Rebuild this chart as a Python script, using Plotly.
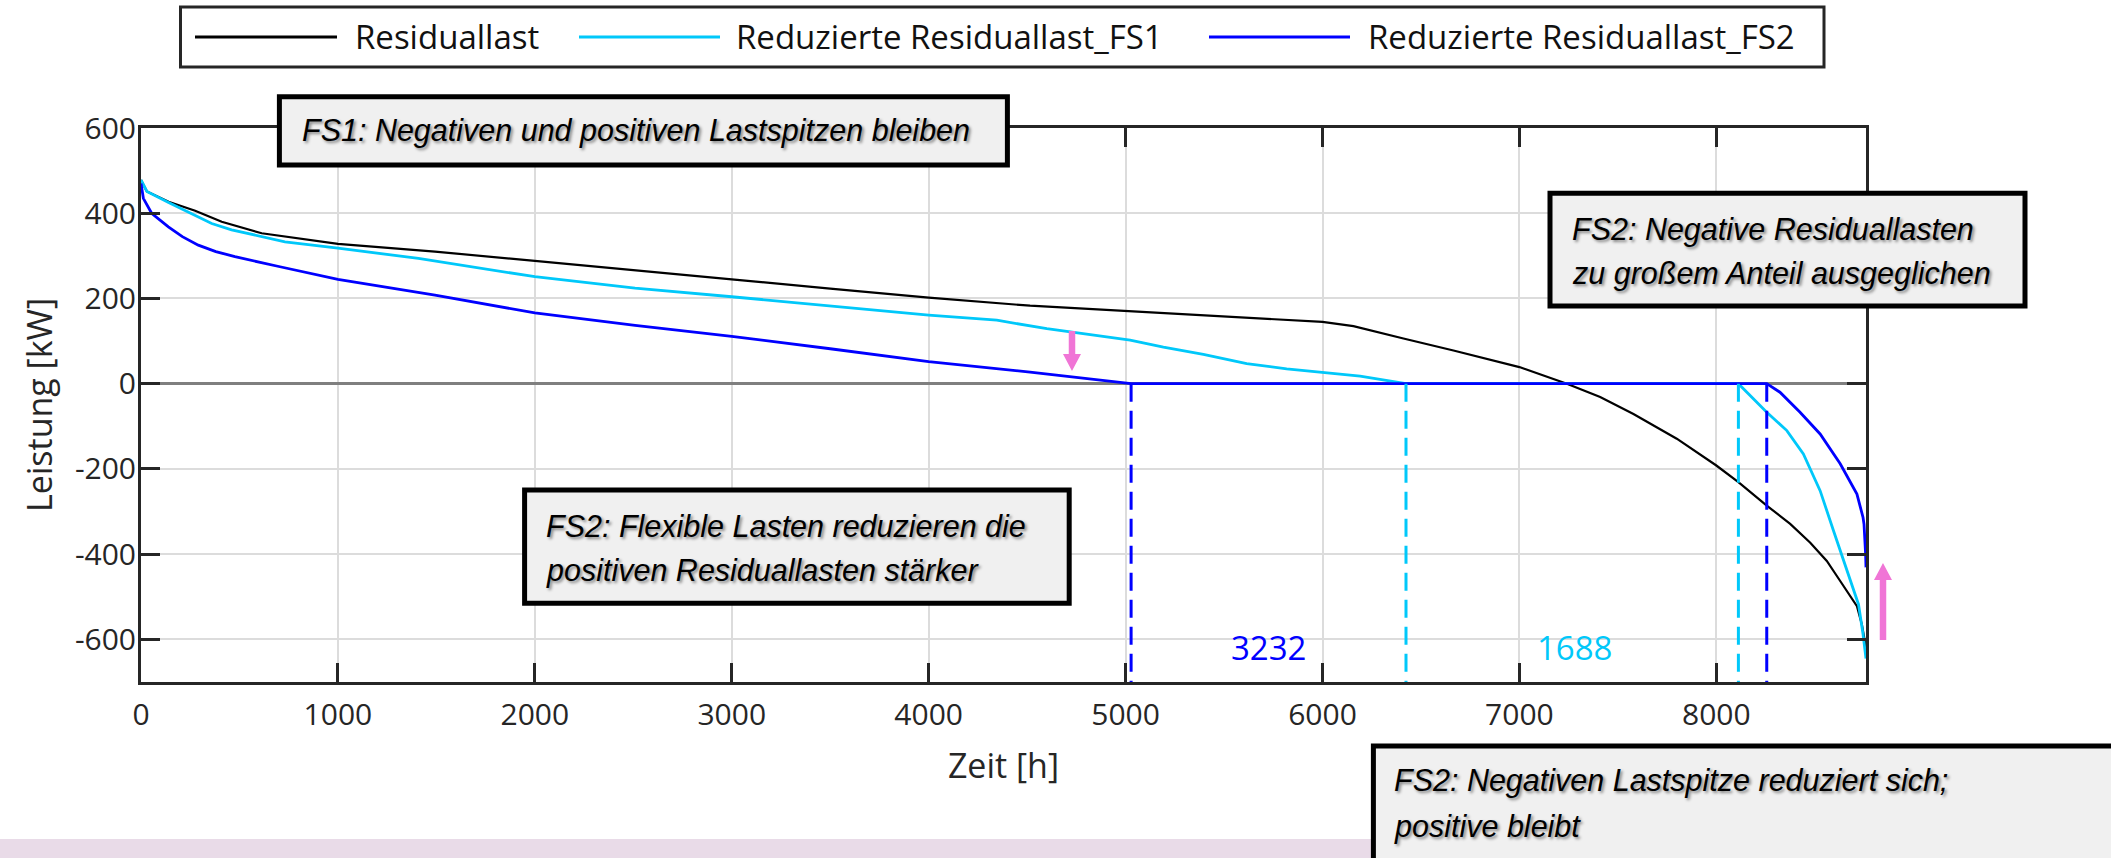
import plotly.graph_objects as go

# ---------------- data ----------------
res_x = [0, 30, 140, 275, 410, 613, 1000, 1493, 2000, 2483, 3000, 3500, 4000, 4515, 5000,
         5480, 6000, 6157, 6250, 6411, 6665, 7000, 7241, 7410, 7579, 7799, 8000, 8112, 8256,
         8375, 8477, 8561, 8629, 8714, 8739, 8760]
res_y = [478, 451, 427, 406, 380, 353, 328, 310, 288, 268, 245, 223, 202, 183, 171,
         158, 145, 135, 125, 106, 78, 39, 0, -31, -71, -129, -192, -231, -286,
         -329, -373, -416, -463, -522, -565, -620]

fs1_x = [0, 30, 140, 359, 460, 731, 1000, 1409, 2000, 2509, 3000, 3500, 4000, 4346, 4600,
         5023, 5192, 5395, 5615, 5818, 6000, 6191, 6424, 8112, 8256, 8358, 8442, 8527,
         8595, 8662, 8722, 8745, 8760]
fs1_y = [478, 451, 425, 376, 361, 333, 318, 294, 251, 224, 204, 182, 161, 149, 129,
         102, 86, 69, 47, 35, 27, 18, 0, 0, -67, -110, -165, -251,
         -345, -439, -518, -588, -645]

fs2_x = [0, 12, 54, 139, 210, 291, 380, 477, 700, 1000, 1493, 2000, 2509, 3000, 3500, 4000, 4515, 5028,
         8256, 8323, 8425, 8527, 8629, 8714, 8745, 8750, 8758, 8760]
fs2_y = [470, 435, 400, 368, 345, 325, 310, 298, 275, 245, 208, 166, 137, 111, 82, 52, 27, 0,
         0, -20, -67, -118, -188, -259, -314, -330, -400, -431]

fs2_zero_bounds = [5028, 8256]   # FS2 zero segment (3232 h)
fs1_zero_bounds = [6424, 8112]   # FS1 zero segment (1688 h)
fs2_count_label = "3232"
fs1_count_label = "1688"

x_tickvals = [0, 1000, 2000, 3000, 4000, 5000, 6000, 7000, 8000]
x_ticktext = ["0", "1000", "2000", "3000", "4000", "5000", "6000", "7000", "8000"]
y_tickvals = [-600, -400, -200, 0, 200, 400, 600]
y_ticktext = ["-600", "-400", "-200", "0", "200", "400", "600"]

series_names = ["Residuallast", "Reduzierte Residuallast_FS1", "Reduzierte Residuallast_FS2"]

# ---------------- styling ----------------
W, H = 2111, 858
L, R, T, B = 141, 1866, 128, 682
BLACK = "#000000"
CYAN = "#00C8FA"
BLUE = "#0000FF"
PINK = "#F075D6"
AXC = "#262626"
TICKFONT = "Open Sans, Noto Sans, sans-serif"
BOXFONT = "Liberation Sans, Arial, sans-serif"


def px(x):
    return (x - L) / (R - L)


def py(y):
    return (B - y) / (B - T)


fig = go.Figure()

fig.add_trace(go.Scatter(x=res_x, y=res_y, mode="lines", name=series_names[0],
                         line=dict(color=BLACK, width=2.2), showlegend=False))
fig.add_trace(go.Scatter(x=fs1_x, y=fs1_y, mode="lines", name=series_names[1],
                         line=dict(color=CYAN, width=2.8), showlegend=False))
fig.add_trace(go.Scatter(x=fs2_x, y=fs2_y, mode="lines", name=series_names[2],
                         line=dict(color=BLUE, width=2.8), showlegend=False))

for xv in fs1_zero_bounds:
    fig.add_trace(go.Scatter(x=[xv, xv], y=[0, -700], mode="lines", showlegend=False,
                             line=dict(color=CYAN, width=3, dash="18px,9px"), hoverinfo="skip"))
for xv in fs2_zero_bounds:
    fig.add_trace(go.Scatter(x=[xv, xv], y=[0, -700], mode="lines", showlegend=False,
                             line=dict(color=BLUE, width=3, dash="18px,9px"), hoverinfo="skip"))

shapes = []
annotations = []

# count labels (between the dashed markers)
annotations.append(dict(x=(fs2_zero_bounds[0] + fs1_zero_bounds[0]) / 2, y=-618,
                        xref="x", yref="y", text=fs2_count_label, showarrow=False,
                        font=dict(family=TICKFONT, size=33, color=BLUE)))
annotations.append(dict(x=(fs1_zero_bounds[0] + fs1_zero_bounds[1]) / 2 + 10, y=-618,
                        xref="x", yref="y", text=fs1_count_label, showarrow=False,
                        font=dict(family=TICKFONT, size=33, color=CYAN)))

# pink footer band
shapes.append(dict(type="rect", xref="paper", yref="paper", x0=px(0), x1=px(W),
                   y0=py(839), y1=py(H + 5), fillcolor="#E9DBE8", line=dict(width=0), layer="above"))

# legend (drawn manually)
shapes.append(dict(type="rect", xref="paper", yref="paper", x0=px(180.5), x1=px(1824),
                   y0=py(67), y1=py(7), fillcolor="white", line=dict(color=AXC, width=3), layer="above"))
leg = [(195, 337, 353, BLACK), (579, 720, 734, CYAN), (1209, 1350, 1366, BLUE)]
for (a, b, tx, col), nm in zip(leg, series_names):
    shapes.append(dict(type="line", xref="paper", yref="paper", x0=px(a), x1=px(b),
                       y0=py(37), y1=py(37), line=dict(color=col, width=3), layer="above"))
    annotations.append(dict(x=px(tx), y=py(36), xref="paper", yref="paper", text=nm,
                            showarrow=False, xanchor="left", yanchor="middle",
                            font=dict(family=TICKFONT, size=33, color="#111111")))

# text boxes
boxes = [
    ((279.4, 1007.4, 96.7, 165), 300, ["FS1: Negativen und positiven Lastspitzen bleiben"], [131]),
    ((1550, 2025, 193.3, 306), 1570, ["FS2: Negative Residuallasten", "zu großem Anteil ausgeglichen"], [229, 273]),
    ((524.6, 1069.2, 490, 603.3), 544, ["FS2: Flexible Lasten reduzieren die", "positiven Residuallasten stärker"], [526, 570]),
    ((1373.4, 2140, 746, 900), 1392, ["FS2: Negativen Lastspitze reduziert sich;", "positive bleibt"], [780, 826]),
]
for (x0, x1, y0, y1), tx, lines, ys in boxes:
    shapes.append(dict(type="rect", xref="paper", yref="paper", x0=px(x0), x1=px(x1),
                       y0=py(y1), y1=py(y0), fillcolor="#F0F0F0",
                       line=dict(color="#000000", width=5), layer="above"))
    for t, yy in zip(lines, ys):
        annotations.append(dict(x=px(tx), y=py(yy), xref="paper", yref="paper", text=t,
                                showarrow=False, xanchor="left", yanchor="middle",
                                font=dict(family=BOXFONT, size=30.5, color="#000000", style="italic",
                                          shadow="2px 2px 3px rgba(0,0,0,0.45)")))


def arrow(cx, tip, base_head, tail, shaft_w=6.5, head_w=18):
    pts = [(cx - shaft_w / 2, tail), (cx - shaft_w / 2, base_head), (cx - head_w / 2, base_head),
           (cx, tip), (cx + head_w / 2, base_head), (cx + shaft_w / 2, base_head),
           (cx + shaft_w / 2, tail)]
    d = "M " + " L ".join(f"{px(a):.6f},{py(b):.6f}" for a, b in pts) + " Z"
    return dict(type="path", xref="paper", yref="paper", path=d, fillcolor=PINK,
                line=dict(width=0), layer="above")


shapes.append(arrow(1072, 371, 354, 331))
shapes.append(arrow(1883, 563, 580, 640))

fig.update_layout(
    width=W, height=H, autosize=False,
    margin=dict(l=L, r=W - R, t=T, b=H - B, pad=0),
    paper_bgcolor="white", plot_bgcolor="white",
    showlegend=False,
    shapes=shapes, annotations=annotations,
    xaxis=dict(range=[0, 8760], tickvals=x_tickvals, ticktext=x_ticktext,
               showgrid=True, gridcolor="#DCDCDC", gridwidth=2,
               showline=True, linecolor=AXC, linewidth=3, mirror="ticks",
               ticks="inside", ticklen=19, tickwidth=3, tickcolor=AXC,
               zeroline=False, ticklabelstandoff=4, automargin=False,
               tickfont=dict(family=TICKFONT, size=30, color=AXC),
               title=dict(text="Zeit [h]", font=dict(family=TICKFONT, size=34, color=AXC), standoff=22)),
    yaxis=dict(range=[-700, 600], tickvals=y_tickvals, ticktext=y_ticktext,
               showgrid=True, gridcolor="#DCDCDC", gridwidth=2,
               showline=True, linecolor=AXC, linewidth=3, mirror="ticks",
               ticks="inside", ticklen=19, tickwidth=3, tickcolor=AXC,
               zeroline=True, zerolinecolor="#7F7F7F", zerolinewidth=2.5,
               ticklabelstandoff=-4, automargin=False,
               tickfont=dict(family=TICKFONT, size=30, color=AXC),
               title=dict(text="Leistung [kW]", font=dict(family=TICKFONT, size=34, color=AXC), standoff=12)),
)

fig.write_html("out.html", config={"displayModeBar": False},
               post_script="document.body.style.margin='0px';document.body.style.padding='0px';")
